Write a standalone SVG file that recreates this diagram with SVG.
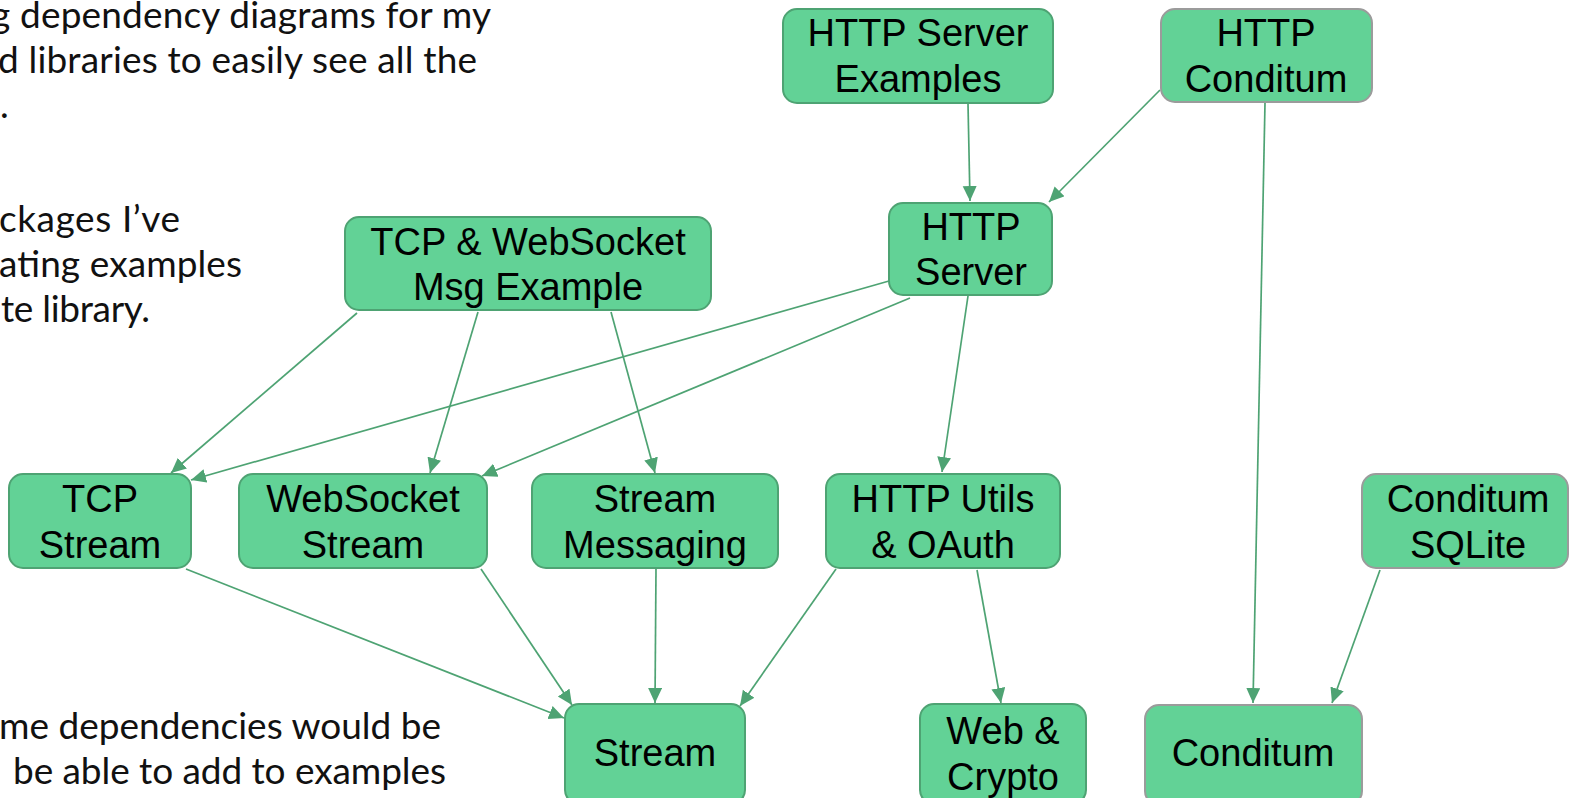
<svg xmlns="http://www.w3.org/2000/svg" width="1569" height="798" viewBox="0 0 1569 798">
  <style>
    .body { font-family: "Lato", "Noto Sans", sans-serif; font-size: 37px; fill: #111111; }
    .node rect { fill: #62D296; stroke: #4EA373; stroke-width: 2; }
    .node.ext rect { stroke: #9B9B9B; }
    .node text { font-family: "Liberation Sans", Arial, sans-serif; font-size: 38px; fill: #000000; text-anchor: middle; }
    .edges line { stroke: #4EA373; stroke-width: 1.7; marker-end: url(#arrow); }
  </style>
  <defs>
    <marker id="arrow" markerUnits="userSpaceOnUse" markerWidth="16" markerHeight="15" refX="15" refY="7" orient="auto">
      <path d="M0,0 L15,7 L0,14 Z" fill="#4EA373"/>
    </marker>
  </defs>
  <rect width="1569" height="798" fill="#ffffff"/>

  <!-- descriptive text, partly cut off at the left edge -->
  <g id="notes">
    <text class="body" x="-9" y="28" textLength="500" lengthAdjust="spacing">g dependency diagrams for my</text>
    <text class="body" x="-2" y="73" textLength="479" lengthAdjust="spacing">d libraries to easily see all the</text>
    <text class="body" x="0" y="118">.</text>
    <text class="body" x="-1" y="232" textLength="181" lengthAdjust="spacing">ckages I’ve</text>
    <text class="body" x="-1" y="277" textLength="243" lengthAdjust="spacing">ating examples</text>
    <text class="body" x="1" y="322" textLength="149" lengthAdjust="spacing">te library.</text>
    <text class="body" x="-1" y="739" textLength="442" lengthAdjust="spacing">me dependencies would be</text>
    <text class="body" x="13" y="784" textLength="433" lengthAdjust="spacing">be able to add to examples</text>
  </g>

  <!-- dependency edges -->
  <g id="connectors" class="edges">
    <line x1="968" y1="104" x2="970" y2="201"/>
    <line x1="1160" y1="90" x2="1049" y2="202"/>
    <line x1="1265" y1="103" x2="1253" y2="703"/>
    <line x1="889" y1="281" x2="191" y2="480"/>
    <line x1="910" y1="298" x2="482" y2="476"/>
    <line x1="968" y1="296" x2="942" y2="472"/>
    <line x1="357" y1="313" x2="171" y2="473"/>
    <line x1="478" y1="312" x2="430" y2="473"/>
    <line x1="611" y1="312" x2="655" y2="473"/>
    <line x1="186" y1="569" x2="564" y2="718"/>
    <line x1="481" y1="569" x2="572" y2="705"/>
    <line x1="656" y1="569" x2="655" y2="703"/>
    <line x1="836" y1="569" x2="740" y2="706"/>
    <line x1="977" y1="570" x2="1001" y2="703"/>
    <line x1="1380" y1="570" x2="1332" y2="703"/>
  </g>

  <g id="http-server-examples" class="node">
    <rect x="783" y="9" width="270" height="94" rx="14"/>
    <text x="918" y="46">HTTP Server</text>
    <text x="918" y="92">Examples</text>
  </g>
  <g id="http-conditum" class="node ext">
    <rect x="1161" y="9" width="211" height="93" rx="14"/>
    <text x="1266" y="46">HTTP</text>
    <text x="1266" y="92">Conditum</text>
  </g>
  <g id="http-server" class="node">
    <rect x="889" y="203" width="163" height="92" rx="14"/>
    <text x="971" y="240">HTTP</text>
    <text x="971" y="285">Server</text>
  </g>
  <g id="tcp-websocket-msg-example" class="node">
    <rect x="345" y="217" width="366" height="93" rx="14"/>
    <text x="528" y="255">TCP &amp; WebSocket</text>
    <text x="528" y="300">Msg Example</text>
  </g>
  <g id="tcp-stream" class="node">
    <rect x="9" y="474" width="182" height="94" rx="14"/>
    <text x="100" y="512">TCP</text>
    <text x="100" y="558">Stream</text>
  </g>
  <g id="websocket-stream" class="node">
    <rect x="239" y="474" width="248" height="94" rx="14"/>
    <text x="363" y="512">WebSocket</text>
    <text x="363" y="558">Stream</text>
  </g>
  <g id="stream-messaging" class="node">
    <rect x="532" y="474" width="246" height="94" rx="14"/>
    <text x="655" y="512">Stream</text>
    <text x="655" y="558">Messaging</text>
  </g>
  <g id="http-utils-oauth" class="node">
    <rect x="826" y="474" width="234" height="94" rx="14"/>
    <text x="943" y="512">HTTP Utils</text>
    <text x="943" y="558">&amp; OAuth</text>
  </g>
  <g id="conditum-sqlite" class="node ext">
    <rect x="1362" y="474" width="206" height="94" rx="14"/>
    <text x="1468" y="512">Conditum</text>
    <text x="1468" y="558">SQLite</text>
  </g>
  <g id="stream" class="node">
    <rect x="565" y="704" width="180" height="100" rx="14"/>
    <text x="655" y="766">Stream</text>
  </g>
  <g id="web-crypto" class="node">
    <rect x="920" y="704" width="166" height="100" rx="14"/>
    <text x="1003" y="744">Web &amp;</text>
    <text x="1003" y="790">Crypto</text>
  </g>
  <g id="conditum" class="node ext">
    <rect x="1145" y="705" width="217" height="100" rx="14"/>
    <text x="1253" y="766">Conditum</text>
  </g>
</svg>
